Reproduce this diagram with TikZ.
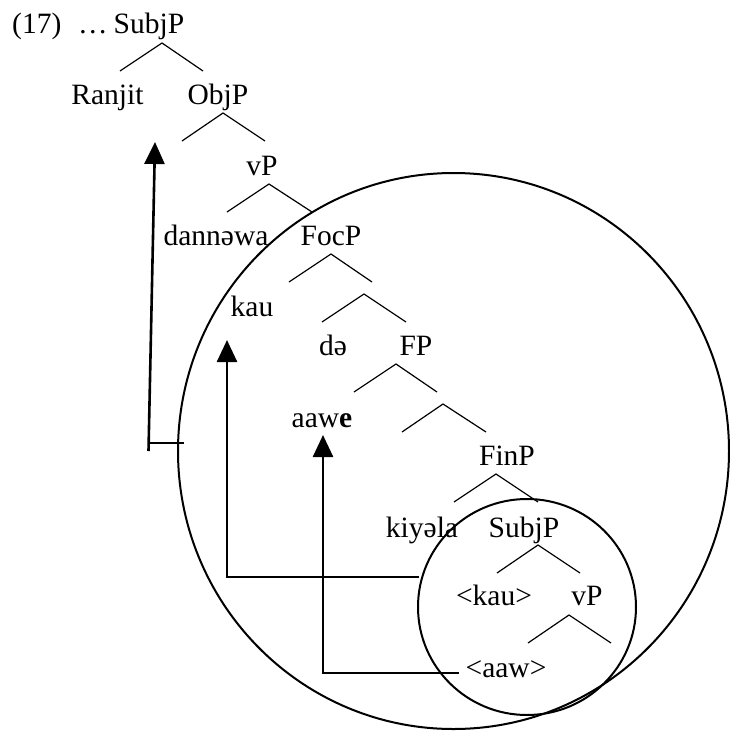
\documentclass[tikz,border=0pt]{standalone}
\usepackage{fontspec}
\setmainfont{Liberation Serif}
\usetikzlibrary{arrows.meta}
\tikzset{
  lbl/.style={anchor=base,inner sep=0pt,font=\fontsize{29.5}{32}\selectfont},
  branch/.style={line width=1.2pt},
  ring/.style={line width=2pt},
  mover/.style={line width=2.6pt,-{Triangle[length=22pt,width=20pt]}},
  moveline/.style={line width=2.6pt},
}
\newcommand{\mybranch}[4]{%
  \coordinate (#1a) at #2; \coordinate (#1l) at #3; \coordinate (#1r) at #4;
  \draw[branch] (#1l) -- (#1a) -- (#1r);}
\begin{document}
\begin{tikzpicture}[x=1pt,y=-1pt]
\useasboundingbox (0,0) rectangle (730,732);
% texts
\node[lbl,anchor=base west] (num) at (12,33) {(17)};
\node[lbl,anchor=base west] (dots) at (78,33) {…};
\node[lbl] (subj1) at (149,33) {SubjP};
\node[lbl] (ranjit) at (107.5,104) {Ranjit};
\node[lbl] (objp) at (218,104) {ObjP};
\node[lbl] (vp1) at (262,175) {vP};
\node[lbl] (dann) at (216,245) {dannəwa};
\node[lbl] (focp) at (331,245) {FocP};
\node[lbl] (kau) at (252,316) {kau};
\node[lbl] (de) at (333,355) {də};
\node[lbl] (fp) at (416,355) {FP};
\node[lbl] (aawe) at (322,427) {aaw\textbf{e}};
\node[lbl] (finp) at (507,465) {FinP};
\node[lbl] (kiyela) at (422,537) {kiyəla};
\node[lbl] (subj2) at (524,537) {SubjP};
\node[lbl] (kau2) at (494,605) {<kau>};
\node[lbl] (vp2) at (587,605) {vP};
\node[lbl] (aaw2) at (506,677) {<aaw>};
% branches
\mybranch{b1}{(162,43)}{(120,71)}{(203,71)}
\mybranch{b2}{(223,113)}{(182,141)}{(265,141)}
\mybranch{b3}{(269,184)}{(227,212)}{(312,212)}
\mybranch{b4}{(331,254)}{(289,282)}{(372,282)}
\mybranch{b5}{(364,294)}{(322,322)}{(406,322)}
\mybranch{b6}{(396,364)}{(354,392)}{(437,392)}
\mybranch{b7}{(443,404)}{(402,432)}{(486,432)}
\mybranch{b8}{(496,474)}{(454,502)}{(538,502)}
\mybranch{b9}{(538,545)}{(497,573)}{(580,573)}
\mybranch{b10}{(569,615)}{(528,643)}{(611,643)}
% circles
\coordinate (bigc) at (453.5,451);
\coordinate (smallc) at (527,607);
\draw[ring] (bigc) ellipse [x radius=275.5, y radius=278];
\draw[ring] (smallc) ellipse [x radius=109, y radius=108];
% movement arrows
\coordinate (m1s) at (184,443); \coordinate (m1c) at (148.5,443);
\coordinate (m1b) at (148.5,451); \coordinate (m1t) at (155,142);
\draw[moveline] (m1s) -- (m1c);
\draw[mover] (m1b) -- (m1t);
\coordinate (m2s) at (419,577); \coordinate (m2c) at (227,577); \coordinate (m2t) at (227,340);
\draw[mover] (m2s) -- (m2c) -- (m2t);
\coordinate (m3s) at (459,673); \coordinate (m3c) at (323,673); \coordinate (m3t) at (323,435);
\draw[mover] (m3s) -- (m3c) -- (m3t);
\end{tikzpicture}
\end{document}
